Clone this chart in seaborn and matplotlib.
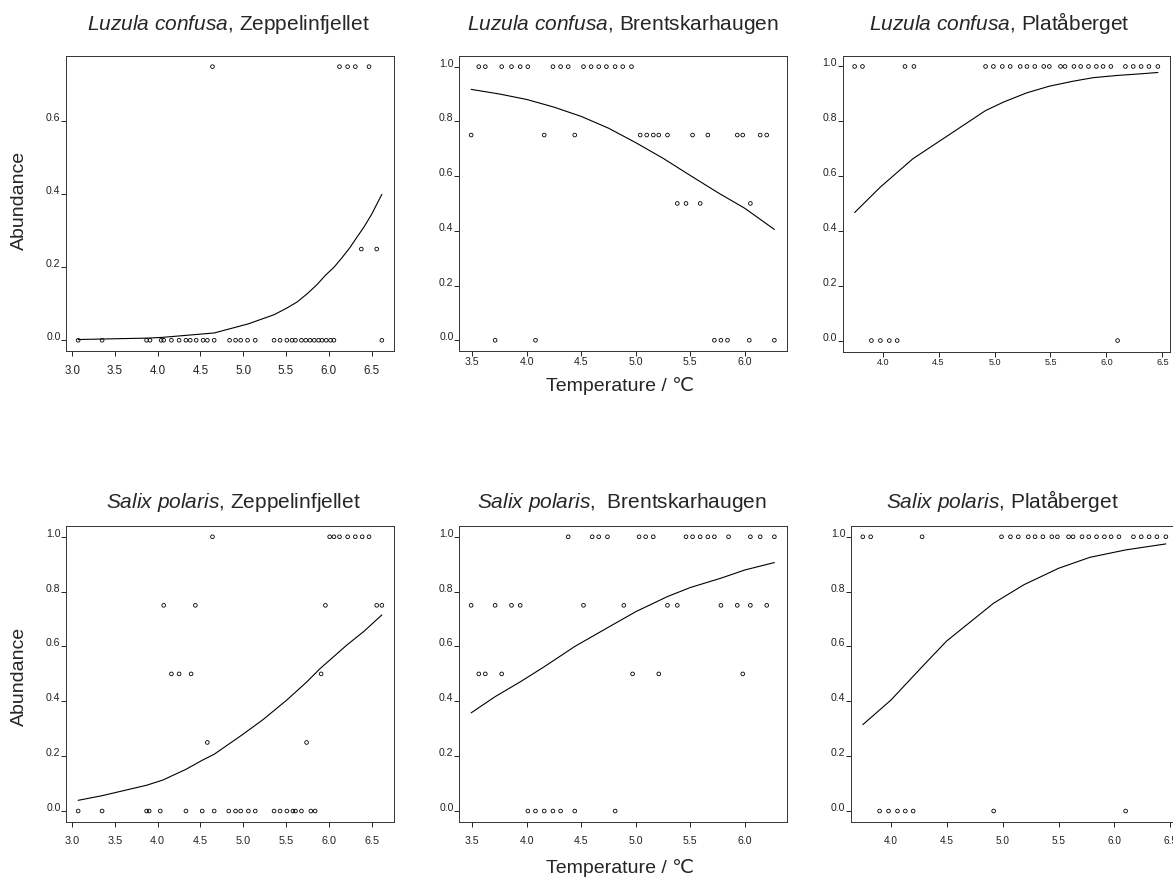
import matplotlib
matplotlib.use("Agg")
import matplotlib.pyplot as plt
import numpy as np
import pandas as pd
import seaborn as sns

# ---------------- data ----------------
# Luzula confusa, Zeppelinfjellet
lz_zep_0 = [3.07, 3.35, 3.87, 3.91, 4.04, 4.07, 4.16, 4.25, 4.33, 4.38, 4.45, 4.53, 4.58,
            4.66, 4.84, 4.91, 4.97, 5.05, 5.14, 5.36, 5.43, 5.51, 5.57, 5.61, 5.68, 5.73,
            5.78, 5.83, 5.88, 5.92, 5.97, 6.02, 6.06, 6.62]
lz_zep_025 = [6.38, 6.56]
lz_zep_075 = [4.64, 6.125, 6.22, 6.31, 6.47]
lz_zep_curve_x = [3.07, 3.90, 4.06, 4.66, 5.06, 5.36, 5.50, 5.63, 5.75, 5.86, 5.96, 6.06,
                  6.15, 6.25, 6.33, 6.41, 6.50, 6.62]
lz_zep_curve_y = [0.002, 0.006, 0.008, 0.020, 0.045, 0.070, 0.087, 0.105, 0.128, 0.152,
                  0.178, 0.200, 0.225, 0.255, 0.283, 0.310, 0.345, 0.400]

# Luzula confusa, Brentskarhaugen
lz_bre_0 = [3.71, 4.08, 5.72, 5.78, 5.84, 6.04, 6.27]
lz_bre_05 = [5.38, 5.46, 5.59, 6.05]
lz_bre_075 = [3.49, 4.16, 4.44, 5.04, 5.10, 5.16, 5.21, 5.29, 5.52, 5.66, 5.93, 5.98, 6.14, 6.20]
lz_bre_1 = [3.56, 3.62, 3.77, 3.86, 3.94, 4.01, 4.24, 4.31, 4.38, 4.52, 4.59, 4.66, 4.73,
            4.81, 4.88, 4.96]
lz_bre_curve_x = [3.49, 3.75, 4.00, 4.25, 4.50, 4.75, 5.00, 5.25, 5.50, 5.75, 6.00, 6.27]
lz_bre_curve_y = [0.917, 0.900, 0.880, 0.852, 0.818, 0.775, 0.722, 0.665, 0.602, 0.540, 0.482, 0.405]

# Luzula confusa, Platåberget
lz_pla_0 = [3.90, 3.98, 4.06, 4.13, 6.10]
lz_pla_1 = [3.75, 3.82, 4.20, 4.28, 4.92, 4.99, 5.07, 5.14, 5.23, 5.29, 5.36, 5.44, 5.49,
            5.59, 5.63, 5.71, 5.77, 5.84, 5.91, 5.97, 6.04, 6.17, 6.24, 6.31, 6.38, 6.46]
lz_pla_curve_x = [3.75, 3.98, 4.27, 4.92, 5.08, 5.29, 5.49, 5.70, 5.88, 6.09, 6.30, 6.46]
lz_pla_curve_y = [0.467, 0.560, 0.663, 0.839, 0.870, 0.904, 0.928, 0.946, 0.959, 0.967, 0.973, 0.978]

# Salix polaris, Zeppelinfjellet
sp_zep_0 = [3.07, 3.35, 3.87, 3.90, 4.03, 4.33, 4.52, 4.66, 4.83, 4.91, 4.97, 5.06, 5.14,
            5.36, 5.43, 5.51, 5.58, 5.61, 5.68, 5.79, 5.84]
sp_zep_025 = [4.58, 5.74]
sp_zep_05 = [4.16, 4.25, 4.39, 5.91]
sp_zep_075 = [4.07, 4.44, 5.96, 6.56, 6.62]
sp_zep_1 = [4.64, 6.01, 6.06, 6.125, 6.22, 6.31, 6.39, 6.47]
sp_zep_curve_x = [3.07, 3.35, 3.87, 4.06, 4.33, 4.52, 4.66, 4.97, 5.23, 5.51, 5.74, 5.90,
                  6.01, 6.21, 6.41, 6.62]
sp_zep_curve_y = [0.039, 0.056, 0.094, 0.113, 0.152, 0.185, 0.207, 0.274, 0.333, 0.405,
                  0.470, 0.520, 0.550, 0.605, 0.655, 0.715]

# Salix polaris, Brentskarhaugen
sp_bre_0 = [4.01, 4.08, 4.16, 4.24, 4.31, 4.44, 4.81]
sp_bre_05 = [3.56, 3.62, 3.77, 4.97, 5.21, 5.98]
sp_bre_075 = [3.49, 3.71, 3.86, 3.94, 4.52, 4.89, 5.29, 5.38, 5.78, 5.93, 6.05, 6.20]
sp_bre_1 = [4.38, 4.60, 4.66, 4.74, 5.03, 5.09, 5.16, 5.46, 5.52, 5.59, 5.66, 5.72, 5.85,
            6.05, 6.14, 6.27]
sp_bre_curve_x = [3.49, 3.71, 3.94, 4.16, 4.44, 4.73, 5.00, 5.29, 5.50, 5.78, 6.00, 6.27]
sp_bre_curve_y = [0.358, 0.417, 0.471, 0.526, 0.600, 0.666, 0.727, 0.782, 0.815, 0.849, 0.879, 0.906]

# Salix polaris, Platåberget
sp_pla_0 = [3.90, 3.98, 4.06, 4.13, 4.20, 4.92, 6.10]
sp_pla_1 = [3.75, 3.82, 4.28, 4.99, 5.07, 5.14, 5.23, 5.29, 5.36, 5.44, 5.49, 5.59, 5.63,
            5.71, 5.77, 5.84, 5.91, 5.97, 6.04, 6.17, 6.24, 6.31, 6.38, 6.46]
sp_pla_curve_x = [3.75, 4.00, 4.28, 4.50, 4.92, 5.19, 5.50, 5.78, 6.10, 6.46]
sp_pla_curve_y = [0.315, 0.404, 0.526, 0.620, 0.758, 0.825, 0.885, 0.925, 0.952, 0.974]

titles = [r"$\it{Luzula\ confusa}$, Zeppelinfjellet",
          r"$\it{Luzula\ confusa}$, Brentskarhaugen",
          r"$\it{Luzula\ confusa}$, Platåberget",
          r"$\it{Salix\ polaris}$, Zeppelinfjellet",
          r"$\it{Salix\ polaris}$,  Brentskarhaugen",
          r"$\it{Salix\ polaris}$, Platåberget"]
xticks_p = [[3.0, 3.5, 4.0, 4.5, 5.0, 5.5, 6.0, 6.5],
            [3.5, 4.0, 4.5, 5.0, 5.5, 6.0],
            [4.0, 4.5, 5.0, 5.5, 6.0, 6.5]]
yticks_small = [0.0, 0.2, 0.4, 0.6]
yticks_full = [0.0, 0.2, 0.4, 0.6, 0.8, 1.0]
ylabel_text = "Abundance"
xlabel_text = "Temperature / ℃"

panels = [
    dict(pts={0.0: lz_zep_0, 0.25: lz_zep_025, 0.75: lz_zep_075},
         cx=lz_zep_curve_x, cy=lz_zep_curve_y),
    dict(pts={0.0: lz_bre_0, 0.5: lz_bre_05, 0.75: lz_bre_075, 1.0: lz_bre_1},
         cx=lz_bre_curve_x, cy=lz_bre_curve_y),
    dict(pts={0.0: lz_pla_0, 1.0: lz_pla_1},
         cx=lz_pla_curve_x, cy=lz_pla_curve_y),
    dict(pts={0.0: sp_zep_0, 0.25: sp_zep_025, 0.5: sp_zep_05, 0.75: sp_zep_075, 1.0: sp_zep_1},
         cx=sp_zep_curve_x, cy=sp_zep_curve_y),
    dict(pts={0.0: sp_bre_0, 0.5: sp_bre_05, 0.75: sp_bre_075, 1.0: sp_bre_1},
         cx=sp_bre_curve_x, cy=sp_bre_curve_y),
    dict(pts={0.0: sp_pla_0, 1.0: sp_pla_1},
         cx=sp_pla_curve_x, cy=sp_pla_curve_y),
]

# ---------------- style / layout ----------------
sns.set_theme(style="white")
plt.rcParams["font.family"] = ["Liberation Sans", "DejaVu Sans"]
plt.rcParams["mathtext.fontset"] = "custom"
plt.rcParams["mathtext.rm"] = "Liberation Sans"
plt.rcParams["mathtext.it"] = "Liberation Sans:italic"

W, H = 1173, 881
fig = plt.figure(figsize=(W / 100, H / 100), dpi=100)


def box(l, t, r, b):
    return [l / W, 1 - b / H, (r - l) / W, (b - t) / H]


boxes = [(66, 55.7, 394, 351.2), (459, 55.7, 786.5, 351.2), (842.5, 55.5, 1170, 351.5),
         (66, 525.8, 394, 822), (459, 525.8, 786.5, 822), (850.7, 525.8, 1178, 822)]
xfs = [8.3, 7.6, 6.5, 7.8, 7.6, 7.2]
xpad = [6.3, 0.8, 0.8, 6.3, 6.3, 6.3]
title_x = [228, 622.5, 999, 233, 622, 1002]
title_base = [29.6, 29.6, 29.6, 508, 508, 508]

for i, (p, bx) in enumerate(zip(panels, boxes)):
    ax = fig.add_axes(box(*bx))
    xs, ys = [], []
    for lev, vals in p["pts"].items():
        xs += list(vals)
        ys += [lev] * len(vals)
    df = pd.DataFrame({"x": xs, "y": ys})
    sns.scatterplot(data=df, x="x", y="y", ax=ax, marker="o", s=7,
                    facecolor="none", edgecolor="black", linewidth=0.6, legend=False)
    cdf = pd.DataFrame({"x": p["cx"], "y": p["cy"]})
    sns.lineplot(data=cdf, x="x", y="y", ax=ax, color="black", linewidth=0.8,
                 estimator=None, sort=True)
    # R-style 4% range extension
    xmin, xmax = min(xs), max(xs)
    xr = xmax - xmin
    ax.set_xlim(xmin - 0.04 * xr, xmax + 0.04 * xr)
    ymax = max(ys)
    ax.set_ylim(-0.04 * ymax, ymax * 1.04)
    xt = xticks_p[i % 3]
    ax.set_xticks(xt)
    ax.set_xticklabels([f"{v:.1f}" for v in xt], fontsize=xfs[i], color="#222222")
    yt = yticks_small if ymax < 0.9 else yticks_full
    ax.set_yticks(yt)
    ax.set_yticklabels([f"{v:.1f}" for v in yt], fontsize=7.6, color="#222222",
                       va="baseline")
    ax.tick_params(axis="x", direction="out", length=3.6, width=0.7, pad=xpad[i],
                   bottom=True, color="#222222")
    ax.tick_params(axis="y", direction="out", length=3.6, width=0.7, pad=0.3,
                   left=True, color="#222222")
    ax.set_xlabel("")
    ax.set_ylabel("")
    for s in ax.spines.values():
        s.set_color("#333333")
        s.set_linewidth(0.7)
    fig.text(title_x[i] / W, 1 - title_base[i] / H, titles[i], ha="center",
             va="baseline", fontsize=15)

fig.text(19 / W, 1 - 200 / H, ylabel_text, rotation=90, ha="center", va="center",
         fontsize=14)
fig.text(19 / W, 1 - 676 / H, ylabel_text, rotation=90, ha="center", va="center",
         fontsize=14)
fig.text(620 / W, 1 - 386 / H, xlabel_text, ha="center", va="center", fontsize=14)
fig.text(620 / W, 1 - 868 / H, xlabel_text, ha="center", va="center", fontsize=14)

fig.savefig("out.png", dpi=100, facecolor="white")
